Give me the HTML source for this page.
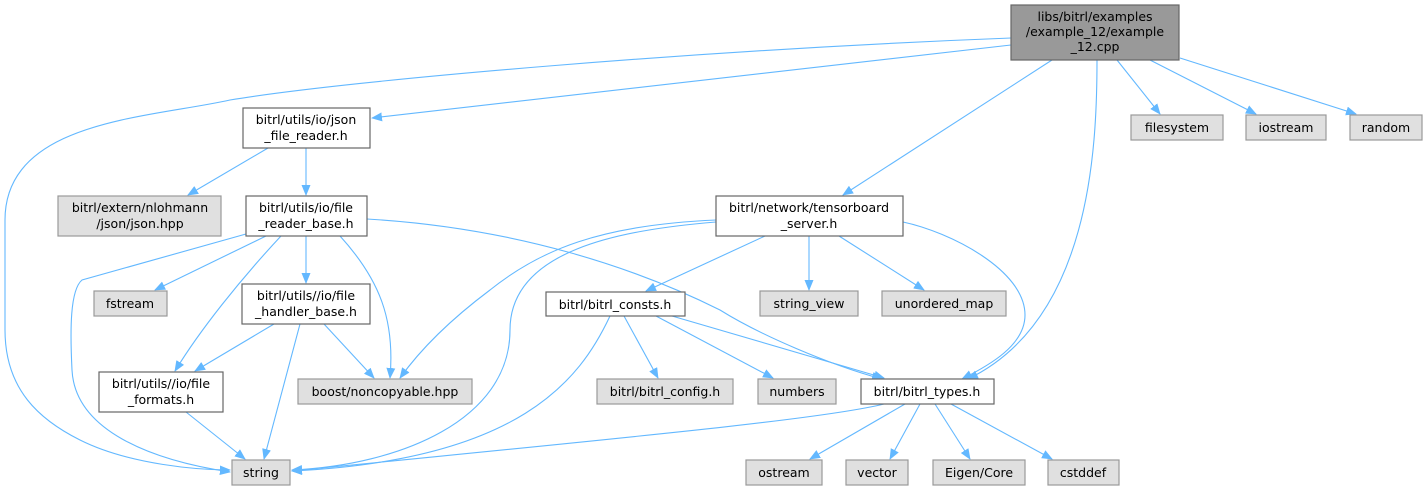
<!DOCTYPE html>
<html><head><meta charset="utf-8"><style>
html,body{margin:0;padding:0;background:#fff;width:1428px;height:491px;overflow:hidden}
text{font-family:"DejaVu Sans","Liberation Sans",sans-serif;font-size:12.5px;fill:#000}
.n{fill:#fff;stroke:#666;stroke-width:1.2}
.g{fill:#e0e0e0;stroke:#999;stroke-width:1.2}
.r{fill:#999;stroke:#666;stroke-width:1.2}
path.e{fill:none;stroke:#63b8ff;stroke-width:1.1}
</style></head><body>
<svg width="1428" height="491" viewBox="0 0 1428 491" xmlns="http://www.w3.org/2000/svg">
<defs><marker id="a" markerWidth="11" markerHeight="9" refX="10" refY="4.5" orient="auto" markerUnits="userSpaceOnUse"><path d="M0,0 L11,4.5 L0,9 z" fill="#63b8ff"/></marker></defs>
<g>
<path class="e" marker-end="url(#a)" d="M1011,38 C700,50 350,80 230,100 C150,118 5,120 5,220 L5,330 C5,390 40,420 80,440 C130,465 200,470 230,470"/>
<path class="e" marker-end="url(#a)" d="M1011,45 L372,118"/>
<path class="e" marker-end="url(#a)" d="M1052,60 L843,195"/>
<path class="e" marker-end="url(#a)" d="M1097,60 C1097,150 1090,320 968,379"/>
<path class="e" marker-end="url(#a)" d="M1117,60 L1160,114"/>
<path class="e" marker-end="url(#a)" d="M1150,60 L1256,114"/>
<path class="e" marker-end="url(#a)" d="M1180,58 L1356,114"/>
<path class="e" marker-end="url(#a)" d="M268,148 L188,195"/>
<path class="e" marker-end="url(#a)" d="M306,148 L306,195"/>
<path class="e" marker-end="url(#a)" d="M246,234 L82,280 C70,290 70,330 72,370 C75,430 150,460 230,472"/>
<path class="e" marker-end="url(#a)" d="M266,236 L155,290"/>
<path class="e" marker-end="url(#a)" d="M281,236 C240,280 200,330 175,371"/>
<path class="e" marker-end="url(#a)" d="M306,236 L306,283"/>
<path class="e" marker-end="url(#a)" d="M340,236 C380,280 395,320 390,378"/>
<path class="e" marker-end="url(#a)" d="M367,219 C520,228 640,270 720,310 C760,335 830,365 882,379"/>
<path class="e" marker-end="url(#a)" d="M274,324 L195,371"/>
<path class="e" marker-end="url(#a)" d="M300,324 L264,459"/>
<path class="e" marker-end="url(#a)" d="M324,324 L374,378"/>
<path class="e" marker-end="url(#a)" d="M186,412 L245,459"/>
<path class="e" marker-end="url(#a)" d="M716,220 C600,225 540,250 490,290 C450,320 420,350 400,378"/>
<path class="e" marker-end="url(#a)" d="M716,222 C620,230 510,250 510,330 C510,420 400,465 292,470"/>
<path class="e" marker-end="url(#a)" d="M765,236 L646,291"/>
<path class="e" marker-end="url(#a)" d="M809,236 L809,290"/>
<path class="e" marker-end="url(#a)" d="M839,236 L924,290"/>
<path class="e" marker-end="url(#a)" d="M903,222 C950,232 1025,270 1025,315 C1025,345 990,365 962,379"/>
<path class="e" marker-end="url(#a)" d="M610,316 C580,380 520,460 292,471"/>
<path class="e" marker-end="url(#a)" d="M624,316 L658,378"/>
<path class="e" marker-end="url(#a)" d="M656,316 L773,378"/>
<path class="e" marker-end="url(#a)" d="M672,316 L884,378"/>
<path class="e" marker-end="url(#a)" d="M884,404 C820,420 600,440 292,471"/>
<path class="e" marker-end="url(#a)" d="M905,404 L810,459"/>
<path class="e" marker-end="url(#a)" d="M920,404 L890,459"/>
<path class="e" marker-end="url(#a)" d="M935,404 L970,459"/>
<path class="e" marker-end="url(#a)" d="M951,404 L1052,459"/>
</g>
<g text-anchor="middle">
<rect class="r" x="1011" y="5" width="168" height="55"/>
<text x="1095" y="21">libs/bitrl/examples</text><text x="1095" y="36">/example_12/example</text><text x="1095" y="51">_12.cpp</text>
<rect class="n" x="243" y="108" width="127" height="40"/>
<text x="306" y="124">bitrl/utils/io/json</text><text x="306" y="140">_file_reader.h</text>
<rect class="g" x="58" y="196" width="163" height="40"/>
<text x="140" y="212">bitrl/extern/nlohmann</text><text x="140" y="228">/json/json.hpp</text>
<rect class="n" x="246" y="196" width="121" height="40"/>
<text x="306" y="212">bitrl/utils/io/file</text><text x="306" y="228">_reader_base.h</text>
<rect class="g" x="94" y="291" width="73" height="25"/><text x="130" y="308">fstream</text>
<rect class="n" x="242" y="284" width="128" height="40"/>
<text x="306" y="300">bitrl/utils//io/file</text><text x="306" y="316">_handler_base.h</text>
<rect class="n" x="99" y="372" width="124" height="40"/>
<text x="161" y="388">bitrl/utils//io/file</text><text x="161" y="404">_formats.h</text>
<rect class="g" x="298" y="379" width="174" height="25"/><text x="385" y="396">boost/noncopyable.hpp</text>
<rect class="g" x="232" y="460" width="58" height="25"/><text x="261" y="477">string</text>
<rect class="n" x="546" y="292" width="139" height="24"/><text x="615" y="309">bitrl/bitrl_consts.h</text>
<rect class="g" x="597" y="379" width="136" height="25"/><text x="665" y="396">bitrl/bitrl_config.h</text>
<rect class="g" x="758" y="379" width="78" height="25"/><text x="797" y="396">numbers</text>
<rect class="n" x="861" y="379" width="133" height="25"/><text x="927" y="396">bitrl/bitrl_types.h</text>
<rect class="n" x="716" y="196" width="187" height="40"/>
<text x="809" y="212">bitrl/network/tensorboard</text><text x="809" y="228">_server.h</text>
<rect class="g" x="760" y="291" width="98" height="25"/><text x="809" y="308">string_view</text>
<rect class="g" x="882" y="291" width="124" height="25"/><text x="944" y="308">unordered_map</text>
<rect class="g" x="1131" y="115" width="92" height="25"/><text x="1177" y="132">filesystem</text>
<rect class="g" x="1246" y="115" width="80" height="25"/><text x="1286" y="132">iostream</text>
<rect class="g" x="1350" y="115" width="72" height="25"/><text x="1386" y="132">random</text>
<rect class="g" x="746" y="460" width="76" height="25"/><text x="784" y="477">ostream</text>
<rect class="g" x="846" y="460" width="62" height="25"/><text x="877" y="477">vector</text>
<rect class="g" x="933" y="460" width="92" height="25"/><text x="979" y="477">Eigen/Core</text>
<rect class="g" x="1048" y="460" width="71" height="25"/><text x="1083" y="477">cstddef</text>
</g>
</svg>
</body></html>
